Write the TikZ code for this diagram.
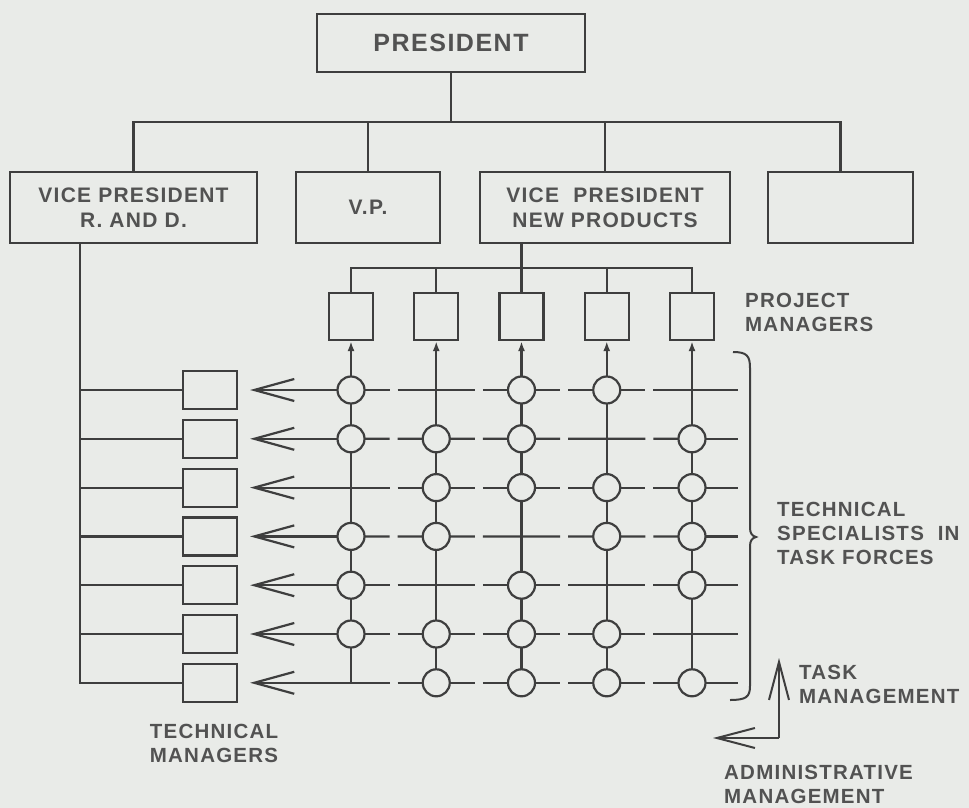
\documentclass[tikz,border=0pt]{standalone}
\usepackage{fontspec}
\setmainfont[LetterSpace=6]{Liberation Sans}
\usetikzlibrary{arrows.meta,calc}
\definecolor{bg}{RGB}{233,235,232}
\definecolor{ink}{RGB}{62,62,62}
\definecolor{txt}{RGB}{82,82,82}
\begin{document}
\begin{tikzpicture}[x=1pt,y=-1pt,
  link/.style={draw=ink,line width=2.2pt},
  box/.style={draw=ink,line width=2.2pt,fill=bg,inner sep=0pt,text=txt,align=center,
              font=\bfseries\fontsize{21}{25}\selectfont},
  pmbox/.style={box,minimum width=44pt,minimum height=47pt},
  tmbox/.style={box,minimum width=54pt,minimum height=38pt},
  ts/.style={circle,draw=ink,fill=bg,line width=2.2pt,minimum size=27pt,inner sep=0pt},
  lbl/.style={text=txt,align=left,anchor=west,inner sep=0pt,font=\bfseries\fontsize{20.5}{24}\selectfont},
  lbar/.style={link,-{Straight Barb[length=40pt,width=22pt]}},
  uparr/.style={link,-{Latex[length=10pt,width=7pt]}}]
\fill[bg] (0,0) rectangle (969,808);
\useasboundingbox (0,0) rectangle (969,808);

% top level
\node[box,minimum width=268pt,minimum height=58pt,font=\bfseries\fontsize{25}{30}\selectfont] (pres) at (451,43) {PRESIDENT};
\node[box,minimum width=247pt,minimum height=71pt] (vp1) at (133.5,207.5) {VICE PRESIDENT\\R. AND D.};
\node[box,minimum width=144pt,minimum height=71pt] (vp2) at (368,207.5) {V.P.};
\node[box,minimum width=250pt,minimum height=71pt] (vp3) at (605,207.5) {VICE\ \ PRESIDENT\\NEW PRODUCTS};
\node[box,minimum width=145pt,minimum height=71pt] (vp4) at (840.5,207.5) {};

\coordinate (bus) at (0,122);
\draw[link] (pres.south) -- (pres.south |- bus);
\draw[link] (vp1.north) -- (vp1.north |- bus) -- (vp4.north |- bus) -- (vp4.north);
\draw[link] (vp2.north) -- (vp2.north |- bus);
\draw[link] (vp3.north) -- (vp3.north |- bus);

% grid coordinates
\foreach \r in {1,...,7}
  \foreach \c in {1,...,5}
    \coordinate (g-\r-\c) at ({351+85.25*(\c-1)},{390+48.8*(\r-1)});

% project managers
\foreach \c in {1,...,5}
  \node[pmbox] (pm-\c) at ({351+85.25*(\c-1)},316.5) {};
\coordinate (pmbus) at (0,268);
\draw[link] (pm-1.north) -- (pm-1.north |- pmbus) -- (pm-5.north |- pmbus) -- (pm-5.north);
\foreach \c in {2,3,4}
  \draw[link] (pm-\c.north) -- (pm-\c.north |- pmbus);
\draw[link] (pm-3.north |- vp3.south) -- (pm-3.north |- pmbus);

% technical managers
\foreach \r in {1,...,7}
  \node[tmbox] (tm-\r) at (210,{390+48.8*(\r-1)}) {};
\coordinate (rdx) at (80,0);
\draw[link] (vp1.south -| rdx) |- (tm-7.west);
\foreach \r in {1,...,6}
  \draw[link] (tm-\r.west) -- (tm-\r.west -| rdx);

% vertical task lines
\foreach \c in {1,...,5}
  \draw[uparr] (g-7-\c) -- (pm-\c.south);

% horizontal lines
\foreach \r in {1,...,7} {
  \draw[lbar,shorten >=12pt] (g-\r-1) -- (tm-\r.east);
  \foreach \c [evaluate=\c as \n using int(\c+1)] in {1,...,4}
    \draw[link] (g-\r-\c) -- ($(g-\r-\c)!0.5!(g-\r-\n)+(-4,0)$)
                ($(g-\r-\c)!0.5!(g-\r-\n)+(4,0)$) -- (g-\r-\n);
  \coordinate (re-\r) at (738,{390+48.8*(\r-1)});
  \draw[link] (g-\r-5) -- (re-\r);
}

% specialists
\foreach \p in {1-1,1-3,1-4, 2-1,2-2,2-3,2-5, 3-2,3-3,3-4,3-5, 4-1,4-2,4-4,4-5,
                5-1,5-3,5-5, 6-1,6-2,6-3,6-4, 7-2,7-3,7-4,7-5}
  \node[ts] (ts-\p) at (g-\p) {};

% brace
\draw[link,line width=2pt] (733,352) .. controls (747,352) and (750,356) .. (750,368)
  -- (750,528) .. controls (750,533) and (752,536) .. (756,537)
  .. controls (752,538) and (750,541) .. (750,546)
  -- (750,686) .. controls (750,697) and (746,700) .. (730,700);

% labels
\node[lbl] (lpm) at (745,312) {PROJECT\\MANAGERS};
\node[lbl] (lts) at (777,533) {TECHNICAL\\SPECIALISTS\ \ IN\\TASK FORCES};
\node[lbl,anchor=center,align=center] (ltm) at (214,743) {TECHNICAL\\MANAGERS};

% management arrows
\coordinate (mc) at (779,738);
\coordinate (mup) at (779,658);
\coordinate (mleft) at (713,738);
\draw[link,line width=2pt,-{Straight Barb[length=38pt,width=20pt]}] (mc) -- (mup);
\draw[link,line width=2pt,-{Straight Barb[length=38pt,width=20pt]}] (mc) -- (mleft);
\node[lbl] (ltask) at (799,684) {TASK\\MANAGEMENT};
\node[lbl] (ladm) at (724,784) {ADMINISTRATIVE\\MANAGEMENT};
\end{tikzpicture}
\end{document}
